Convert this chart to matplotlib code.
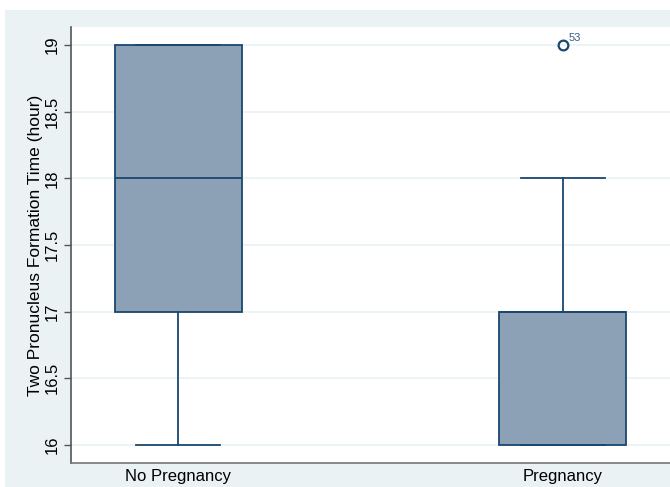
import matplotlib.pyplot as plt
from matplotlib.patches import Rectangle

plt.rcParams['font.family'] = ['Liberation Sans', 'DejaVu Sans']

groups = ["No Pregnancy", "Pregnancy"]
whisker_lo = [16, 16]
q1 = [17, 16]
median = [18, 17]
q3 = [19, 17]
whisker_hi = [19, 18]
outliers = [[], [19]]
outlier_ids = [[], ["53"]]
yticks = [16, 16.5, 17, 17.5, 18, 18.5, 19]

navy = "#1a476f"
fill = "#8ca1b5"
bg = "#eaf2f3"

fig = plt.figure(figsize=(6.7, 4.87), dpi=100)
fig.patch.set_facecolor("white")
# light frame around the plot region
fig.patches.append(Rectangle((5 / 670, 0), 1, 1 - 10 / 487, transform=fig.transFigure,
                             facecolor=bg, edgecolor="none", zorder=-5))

ax = fig.add_axes([71 / 670, 24 / 487, 1 - 71 / 670, 436 / 487])
ax.set_zorder(2)
ax.set_facecolor("white")

stats = []
for i in range(len(groups)):
    stats.append(dict(whislo=whisker_lo[i], q1=q1[i], med=median[i], q3=q3[i],
                      whishi=whisker_hi[i], fliers=outliers[i], label=groups[i]))

ax.bxp(stats, positions=[1, 2], widths=0.33, patch_artist=True, showfliers=True,
       boxprops=dict(facecolor=fill, edgecolor=navy, linewidth=1.3),
       medianprops=dict(color=navy, linewidth=1.3),
       whiskerprops=dict(color=navy, linewidth=1.3),
       capprops=dict(color=navy, linewidth=1.3),
       capwidths=0.22,
       flierprops=dict(marker="o", markerfacecolor="none", markeredgecolor=navy,
                       markersize=7, markeredgewidth=1.6))

for i, ids in enumerate(outlier_ids):
    for val, lab in zip(outliers[i], ids):
        ax.annotate(lab, (i + 1, val), xytext=(4, 3), textcoords="offset points",
                    fontsize=8, color="#3a5f85")

ax.set_xlim(0.722, 2.278)
ax.set_ylim(15.865, 19.135)
ax.set_yticks(yticks)
ax.set_yticklabels([f"{t:g}" for t in yticks], rotation=90, va="center", fontsize=12)
ax.tick_params(axis="y", length=5, width=1, color="#555555", pad=3)
ax.tick_params(axis="x", length=0, pad=4, labelsize=12)
ax.yaxis.grid(True, color=bg, linewidth=1.2)
ax.set_axisbelow(True)
ax.set_ylabel("Two Pronucleus Formation Time (hour)", fontsize=12.5, labelpad=1)

for side in ["top", "right"]:
    ax.spines[side].set_visible(False)
ax.spines["left"].set_color("#555555")
ax.spines["bottom"].set_color("#777777")
ax.spines["left"].set_linewidth(1.2)
ax.spines["bottom"].set_linewidth(1.2)

fig.savefig("out.png", dpi=100, facecolor=fig.get_facecolor())
